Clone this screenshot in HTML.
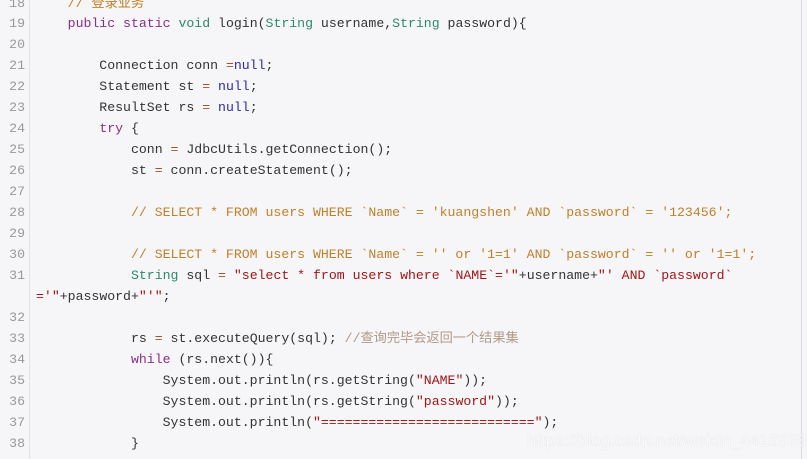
<!DOCTYPE html>
<html><head><meta charset="utf-8"><style>
html,body{margin:0;padding:0}
body{width:807px;height:459px;overflow:hidden;background:#f6f6f8;position:relative;font-family:"Liberation Mono","Noto Sans CJK SC",monospace;font-size:13.2px;color:#333}
.gut{position:absolute;left:0;top:0;width:29px;height:459px;border-right:1px solid #e2e2e6;background:#f6f6f8}
.rb{position:absolute;left:801px;top:0;width:1px;height:459px;background:#ddd}
.n{position:absolute;left:0;width:25px;text-align:right;color:#999;height:21px;line-height:21px}
.l{position:absolute;left:36px;white-space:pre;height:21px;line-height:21px}
.k{color:#8a2d8a}.t{color:#2b8a6a}.nu{color:#2a2ab0}.s{color:#a31515}.c{color:#c0802a}.o{color:#a0522d}.cz{color:#b09a88}
.wm{position:absolute;left:527px;top:431px;font-family:"Liberation Sans",sans-serif;font-size:17px;color:rgba(255,255,255,0.85);text-shadow:0 0 1px rgba(190,190,190,0.7)}
</style></head><body>
<div class="gut"></div><div class="rb"></div>
<div class="n" style="top:-7px">18</div><div class="l" style="top:-7px"><span class="c">    // 登录业务</span></div>
<div class="n" style="top:13px">19</div><div class="l" style="top:13px">    <span class="k">public static</span> <span class="t">void</span> login(<span class="t">String</span> username,<span class="t">String</span> password){</div>
<div class="n" style="top:34px">20</div>
<div class="n" style="top:55px">21</div><div class="l" style="top:55px">        Connection conn <span class="o">=</span><span class="nu">null</span>;</div>
<div class="n" style="top:76px">22</div><div class="l" style="top:76px">        Statement st <span class="o">=</span> <span class="nu">null</span>;</div>
<div class="n" style="top:97px">23</div><div class="l" style="top:97px">        ResultSet rs <span class="o">=</span> <span class="nu">null</span>;</div>
<div class="n" style="top:118px">24</div><div class="l" style="top:118px">        <span class="k">try</span> {</div>
<div class="n" style="top:139px">25</div><div class="l" style="top:139px">            conn <span class="o">=</span> JdbcUtils.getConnection();</div>
<div class="n" style="top:160px">26</div><div class="l" style="top:160px">            st <span class="o">=</span> conn.createStatement();</div>
<div class="n" style="top:181px">27</div>
<div class="n" style="top:202px">28</div><div class="l" style="top:202px"><span class="c">            // SELECT * FROM users WHERE `Name` = 'kuangshen' AND `password` = '123456';</span></div>
<div class="n" style="top:223px">29</div>
<div class="n" style="top:244px">30</div><div class="l" style="top:244px"><span class="c">            // SELECT * FROM users WHERE `Name` = '' or '1=1' AND `password` = '' or '1=1';</span></div>
<div class="n" style="top:265px">31</div><div class="l" style="top:265px">            <span class="t">String</span> sql <span class="o">=</span> <span class="s">"select * from users where `NAME`='"</span>+username+<span class="s">"' AND `password`</span></div>
<div class="l" style="top:286px"><span class="s">='"</span>+password+<span class="s">"'"</span>;</div>
<div class="n" style="top:307px">32</div>
<div class="n" style="top:328px">33</div><div class="l" style="top:328px">            rs <span class="o">=</span> st.executeQuery(sql); <span class="cz">//查询完毕会返回一个结果集</span></div>
<div class="n" style="top:349px">34</div><div class="l" style="top:349px">            <span class="k">while</span> (rs.next()){</div>
<div class="n" style="top:370px">35</div><div class="l" style="top:370px">                System.out.println(rs.getString(<span class="s">"NAME"</span>));</div>
<div class="n" style="top:391px">36</div><div class="l" style="top:391px">                System.out.println(rs.getString(<span class="s">"password"</span>));</div>
<div class="n" style="top:412px">37</div><div class="l" style="top:412px">                System.out.println(<span class="s">"==========================="</span>);</div>
<div class="n" style="top:433px">38</div><div class="l" style="top:433px">            }</div>
<div class="wm">https://blog.csdn.net/weixin_44165280</div>
</body></html>
